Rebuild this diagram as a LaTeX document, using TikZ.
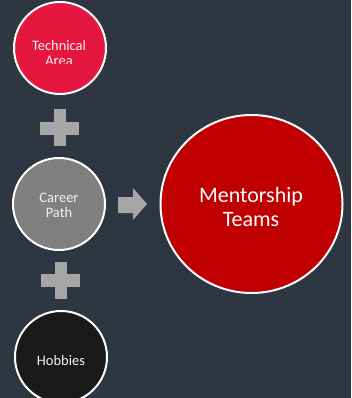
\documentclass[tikz,border=0pt]{standalone}
\usepackage{fontspec}
\usetikzlibrary{shapes.geometric}
\setmainfont{Carlito}
\definecolor{slate}{HTML}{2E3641}
\definecolor{techred}{HTML}{E5173F}
\definecolor{careergray}{HTML}{808080}
\definecolor{hobbyblack}{HTML}{1A1A1A}
\definecolor{teamred}{HTML}{C00000}
\definecolor{signgray}{HTML}{A6A6A6}
\definecolor{labelwhite}{HTML}{F2F2F2}
\begin{document}
\begin{tikzpicture}[x=1pt,y=-1pt,
  bubble/.style={circle,draw=white,line width=2pt,inner sep=0pt},
  smalltext/.style={text=labelwhite,align=center,inner sep=0pt,
    font=\fontsize{14.5}{15.5}\selectfont},
  bigtext/.style={text=white,align=center,inner sep=0pt,
    font=\fontsize{22}{24}\selectfont},
  sign/.style={fill=signgray}]
  % canvas
  \fill[slate] (0,0) rectangle (351,398);
  \useasboundingbox (0,0) rectangle (351,398);

  % circles
  \node[bubble,fill=techred,minimum size=92pt] (tech) at (60,48) {};
  \node[bubble,fill=careergray,minimum size=92pt] (career) at (59,204) {};
  \node[bubble,fill=hobbyblack,minimum size=92pt] (hobby) at (61,357) {};
  \node[ellipse,draw=white,line width=2pt,inner sep=0pt,fill=teamred,
    minimum width=182pt,minimum height=178pt] (team) at (251.5,204) {};

  % labels (the lower line of the first label is cut off by its text box)
  \begin{scope}
    \clip (0,0) rectangle (351,63.5);
    \node[smalltext] (techlabel) at (59,53) {Technical\\Area};
  \end{scope}
  \node[smalltext] (careerlabel) at (59,205.5) {Career\\Path};
  \node[smalltext] (hobbylabel) at (61,360.5) {Hobbies};
  \node[bigtext] (teamlabel) at (251,207) {Mentorship\\Teams};

  % plus signs between the circles
  \fill[sign] (40,122) rectangle (79,135);
  \fill[sign] (53.5,109) rectangle (66,146);
  \fill[sign] (41,274) rectangle (80,287);
  \fill[sign] (54.5,262) rectangle (67,299);

  % block arrow towards the team circle
  \fill[sign] (118,197) -- (133,197) -- (133,188) -- (147,204)
    -- (133,220) -- (133,213) -- (118,213) -- cycle;
\end{tikzpicture}
\end{document}
